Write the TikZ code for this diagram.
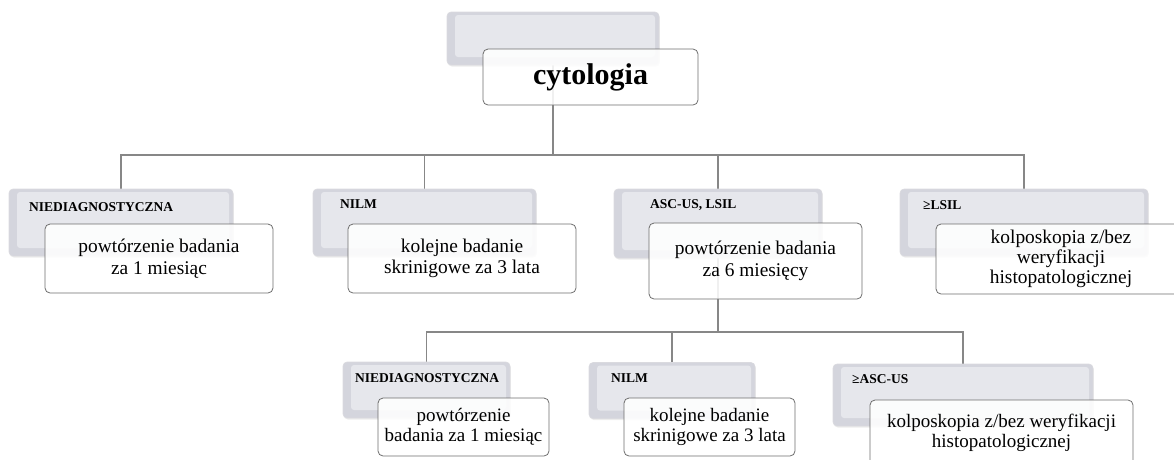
\documentclass[tikz,border=0pt]{standalone}
\usepackage{fontspec}
\setmainfont{Liberation Serif}
\usetikzlibrary{shadows,backgrounds}
\definecolor{grayout}{RGB}{212,213,221}
\definecolor{grayin}{RGB}{230,231,236}
\definecolor{grayedge}{RGB}{218,218,223}
\definecolor{boxedge}{RGB}{110,110,110}
\definecolor{conncol}{RGB}{135,135,135}
\tikzset{
  bevelbox/.style={draw=grayedge, line width=0.6pt, rounded corners=4pt, fill=grayout, inner sep=0pt,
    drop shadow={opacity=0.15, shadow xshift=0.8pt, shadow yshift=-1.5pt},
    path picture={\fill[grayin, rounded corners=3pt] ([xshift=8pt,yshift=-3pt]path picture bounding box.north west) rectangle ([xshift=-4pt,yshift=8pt]path picture bounding box.south east);}},
  notebox/.style={draw=boxedge, line width=0.8pt, rounded corners=5pt, fill=white, fill opacity=0.88, text opacity=1,
    inner sep=0pt, align=center, font=\fontsize{19.4}{21.5}\selectfont},
  notesmall/.style={notebox, font=\fontsize{19}{20.5}\selectfont},
  tag/.style={anchor=west, font=\bfseries\fontsize{13.5}{15}\selectfont, inner sep=0pt},
  conn/.style={draw=conncol, line width=1.1pt}
}
\begin{document}
\begin{tikzpicture}[x=1pt,y=-1pt]
\useasboundingbox (0,0) rectangle (1174,459);
\clip (0,0) rectangle (1174,459);
% top
\node[bevelbox, minimum width=212pt, minimum height=53pt] (g0) at (553,38.5) {};
\node[notebox, minimum width=215pt, minimum height=56pt, font=\bfseries\fontsize{30}{34}\selectfont] (w0) at (590.5,77) {cytologia};
% level 1 gray
\node[bevelbox, minimum width=224pt, minimum height=67pt] (g1) at (121,222.5) {};
\node[bevelbox, minimum width=223pt, minimum height=67pt] (g2) at (424.5,222.5) {};
\node[bevelbox, minimum width=208pt, minimum height=69pt] (g3) at (718,223.5) {};
\node[bevelbox, minimum width=248pt, minimum height=67pt] (g4) at (1024,222.5) {};
\node[tag] (t1) at (29,207.5) {NIEDIAGNOSTYCZNA};
\node[tag] (t2) at (340,204) {NILM};
\node[tag] (t3) at (650,205) {ASC-US, LSIL};
\node[tag] (t4) at (923,205) {≥LSIL};
% level 1 white
\node[notebox, minimum width=228pt, minimum height=69pt] (w1) at (159,258.5) {powtórzenie badania\\za 1 miesiąc};
\node[notebox, minimum width=228pt, minimum height=69pt] (w2) at (462,258.5) {kolejne badanie\\skrinigowe za 3 lata};
\node[notebox, minimum width=213pt, minimum height=76pt] (w3) at (755.5,261) {powtórzenie badania\\za 6 miesięcy};
\node[notebox, minimum width=250pt, minimum height=70pt, font=\fontsize{19.4}{20}\selectfont] (w4) at (1061,259) {kolposkopia z/bez\\weryfikacji\\histopatologicznej};
% level 2 gray
\node[bevelbox, minimum width=167pt, minimum height=56pt] (h1) at (426.5,390) {};
\node[bevelbox, minimum width=166pt, minimum height=56pt] (h2) at (672,390.5) {};
\node[bevelbox, minimum width=260pt, minimum height=62pt] (h3) at (963,395) {};
\node[tag] (s1) at (355,378) {NIEDIAGNOSTYCZNA};
\node[tag] (s2) at (611,378) {NILM};
\node[tag] (s3) at (852,379) {≥ASC-US};
% level 2 white
\node[notesmall, minimum width=171pt, minimum height=58pt] (v1) at (463.5,427) {powtórzenie\\badania za 1 miesiąc};
\node[notesmall, minimum width=171pt, minimum height=58pt] (v2) at (709.5,427) {kolejne badanie\\skrinigowe za 3 lata};
\node[notesmall, minimum width=263pt, minimum height=66pt] (v3) at (1001.5,433) {kolposkopia z/bez weryfikacji\\histopatologicznej};
% connectors
\begin{pgfonlayer}{background}
\coordinate (b1) at (g0.south |- 0,155);
\draw[conn] (g0.south) -- (b1);
\draw[conn] (g1.north) |- (b1) -| (g4.north);
\draw[conn] (b1) -| (g2.north);
\draw[conn] (b1) -| (g3.north);
\coordinate (b2) at (g3.south |- 0,332);
\draw[conn] (g3.south) -- (b2);
\draw[conn] (h1.north) |- (b2) -| (h3.north);
\draw[conn] (b2) -| (h2.north);
\end{pgfonlayer}
\end{tikzpicture}
\end{document}
